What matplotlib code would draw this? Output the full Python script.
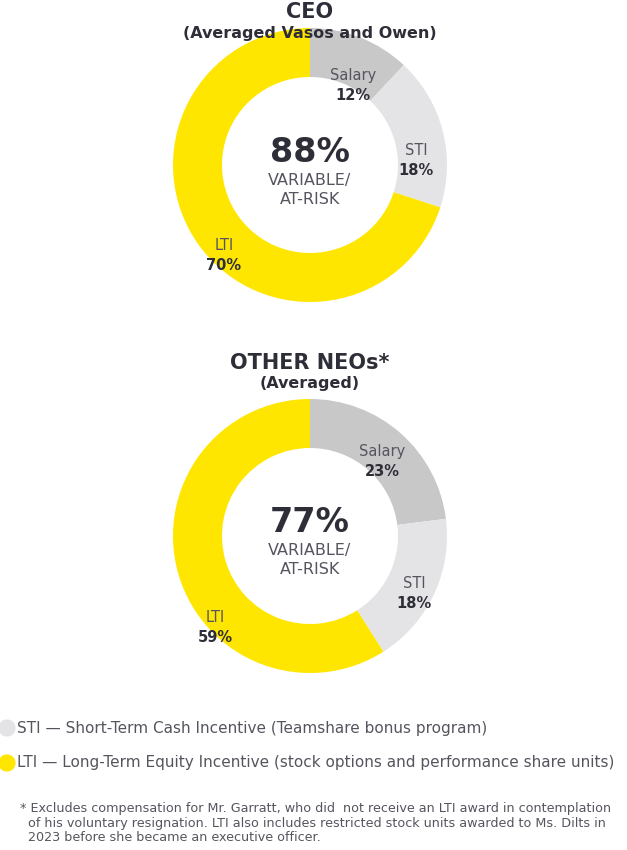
import matplotlib
matplotlib.use("Agg")
import matplotlib.pyplot as plt

categories = ["Salary", "STI", "LTI"]
ceo_values = [12, 18, 70]
neo_values = [23, 18, 59]
colors = ["#c8c8c9", "#e4e4e6", "#ffe600"]
dark = "#2e2e38"

fig = plt.figure(figsize=(6.27, 8.5), dpi=100)
ax = fig.add_axes([0, 0, 1, 1])
ax.set_xlim(0, 627); ax.set_ylim(850, 0); ax.set_aspect("equal"); ax.axis("off")

def donut(cy, vals, big, lblpos):
    ax.pie(vals, colors=colors, startangle=-90, counterclock=True, center=(310, cy),
           radius=137, wedgeprops=dict(width=49, edgecolor="none"), frame=True)
    ax.text(310, cy - 13, big, ha="center", va="center", fontsize=24, fontweight="bold", color=dark)
    ax.text(310, cy + 15, "VARIABLE/", ha="center", va="center", fontsize=11.5, color="#55555f")
    ax.text(310, cy + 34, "AT-RISK", ha="center", va="center", fontsize=11.5, color="#55555f")
    for (x, y), c, v in zip(lblpos, categories, vals):
        ax.text(x, y, c, ha="center", va="center", fontsize=10.5, color="#55555f")
        ax.text(x, y + 20, f"{v}%", ha="center", va="center", fontsize=10.5, fontweight="bold", color=dark)

donut(165, ceo_values, "88%", [(353, 75), (416, 150), (224, 245)])
donut(536, neo_values, "77%", [(382, 451), (414, 583), (215, 617)])
ax.set_xlim(0, 627); ax.set_ylim(850, 0); ax.axis("off")

ax.text(310, 12, "CEO", ha="center", va="center", fontsize=15, fontweight="bold", color=dark)
ax.text(310, 33, "(Averaged Vasos and Owen)", ha="center", va="center", fontsize=11.5, fontweight="bold", color=dark)
ax.text(310, 363, "OTHER NEOs*", ha="center", va="center", fontsize=15, fontweight="bold", color=dark)
ax.text(310, 383, "(Averaged)", ha="center", va="center", fontsize=11.5, fontweight="bold", color=dark)

ax.scatter([7, 7], [728, 763], s=130, c=[colors[1], colors[2]], zorder=5)
ax.text(17, 728, "STI — Short-Term Cash Incentive (Teamshare bonus program)", va="center", fontsize=11, color="#55555f")
ax.text(17, 763, "LTI — Long-Term Equity Incentive (stock options and performance share units)", va="center", fontsize=11, color="#55555f")
ax.text(20, 823, "* Excludes compensation for Mr. Garratt, who did  not receive an LTI award in contemplation\n"
        "  of his voluntary resignation. LTI also includes restricted stock units awarded to Ms. Dilts in\n"
        "  2023 before she became an executive officer.", va="center", fontsize=9.2, color="#55555f", linespacing=1.15)

fig.savefig("out.png", dpi=100)
